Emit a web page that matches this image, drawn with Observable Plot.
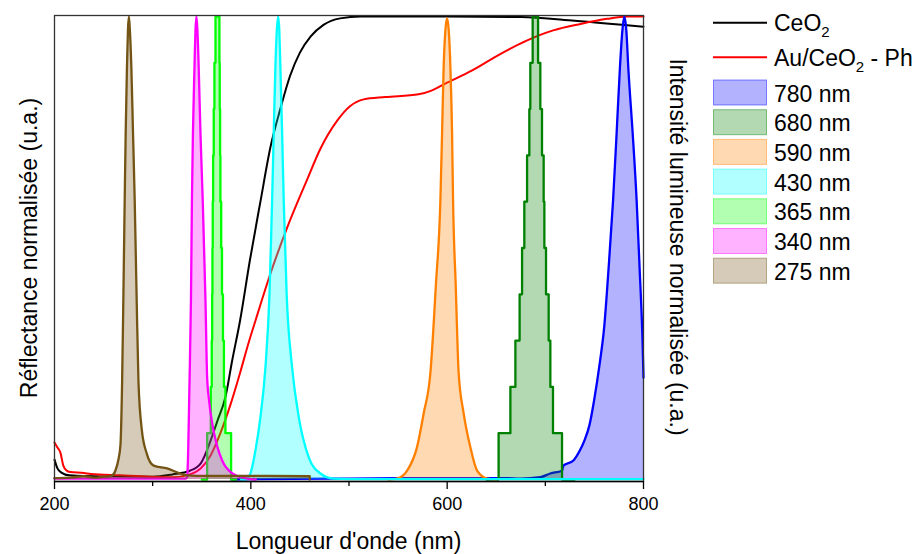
<!DOCTYPE html>
<html><head><meta charset="utf-8">
<script src="https://cdn.jsdelivr.net/npm/d3@7"></script>
<script src="https://cdn.jsdelivr.net/npm/@observablehq/plot@0.6"></script>
<style>
body{margin:0;background:#fff;}
#chart{width:922px;height:554px;}
svg{font-family:"Liberation Sans",Arial,sans-serif;}
</style></head><body><div id="chart"></div>
<script>
// ---- Reflectance (normalised) ----
const ceo2Nm = [200,203,207,215,250,300,320,338,349,359,366,374,381,389,399,410,420,430,440,450,461,474,491,512,600,675,730,800];
const ceo2R  = [0.043,0.024,0.015,0.009,0.0065,0.006,0.011,0.019,0.035,0.084,0.127,0.177,0.257,0.343,0.473,0.603,0.718,0.800,0.872,0.922,0.957,0.982,0.996,1.0,1.0,0.999,0.991,0.978];
const auNm = [200,203,206,209,212,216,230,237,267,298,321,338,349,359,369,379,389,397,404.7,420,437,457,471,488,501,515,537,571,584,598,625,654,681,708,736,763,783,800];
const auR  = [0.080,0.069,0.058,0.030,0.020,0.016,0.014,0.012,0.009,0.006,0.005,0.011,0.024,0.052,0.100,0.160,0.230,0.290,0.343,0.445,0.544,0.646,0.715,0.775,0.806,0.821,0.826,0.832,0.840,0.855,0.883,0.919,0.948,0.970,0.984,0.995,1.0,1.0];

// ---- LED emission spectra (normalised) ----
const s780Nm = [380,400,500,600,660,675,695,705,717,718.4,728.6,735,740,745,750,755,760,764.5,769,772.6,776,778.5,780.5,782.5,784.5,789,793,796,799,800];
const s780I  = [0,0.001,0.002,0.003,0.003,0.002,0.005,0.013,0.019,0.030,0.041,0.062,0.085,0.118,0.175,0.245,0.330,0.458,0.603,0.747,0.890,0.97,1.0,0.97,0.89,0.747,0.603,0.458,0.30,0.22];
const s680Nm = [640,652.4,664.4,669.5,673.8,676.3,678.6,681.4,683.7,684.7,687.1,692.6,694.9,696.6,698.3,699,700.7,703.4,705.1,707.8,717,730];
const s680I  = [0,0.1,0.2,0.3,0.4,0.5,0.6,0.7,0.8,0.9,1.0,0.9,0.8,0.7,0.6,0.5,0.4,0.3,0.2,0.1,0,0];
const s590Nm = [540,549,559.2,569.3,576.1,582.9,588.5,593.1,594.8,596.4,598.2,599.9,601.6,603.3,605,606,608.7,611.7,616.8,623.6,630.5,640.6,650];
const s590I  = [0,0.002,0.019,0.070,0.143,0.230,0.42,0.603,0.747,0.890,0.97,0.996,0.97,0.890,0.747,0.603,0.42,0.230,0.143,0.070,0.019,0.002,0];
const s430Nm = [390,394.5,399.6,404.7,409.8,414.9,419,421.7,423.3,425,426.5,427.8,429,430.1,431.9,433.5,436.5,442,448.8,459,470.9,484.1,500,800];
const s430I  = [0,0,0.013,0.063,0.135,0.243,0.40,0.603,0.747,0.890,0.97,1.0,0.97,0.890,0.747,0.603,0.40,0.243,0.135,0.048,0.013,0.002,0.001,0.001];
const s365Nm = [350,355.5,359.2,360.2,360.6,360.9,361.2,361.6,362.2,362.9,364.0,368.0,368.3,368.7,369.0,369.8,370.6,371.6,372.6,374.1,379.9,385];
const s365I  = [0,0.1,0.2,0.3,0.4,0.5,0.6,0.7,0.8,0.9,1.0,0.9,0.8,0.7,0.6,0.5,0.4,0.3,0.2,0.1,0,0];
const s340Nm = [200,334,335,335.7,337.5,339,340,341,342.6,343.6,344.6,345.6,346.9,348.7,351,353.8,355.5,357.5,360,362.2,366,370.8,381.3,396.5,405];
const s340I  = [0.002,0.002,0.005,0.027,0.207,0.387,0.603,0.747,0.890,0.97,1.0,0.97,0.890,0.747,0.603,0.387,0.22,0.17,0.13,0.104,0.07,0.041,0.013,0.002,0];
const s275Nm = [200,215,230,240,250,258,262,265,267.2,268.9,270.2,271.5,272.5,273.8,274.8,275.8,276.8,278.3,280,281.7,283.6,285.5,289,294,301,314.7,328,335,345,400,460,460];
const s275I  = [0.003,0.004,0.007,0.004,0.006,0.008,0.019,0.042,0.075,0.214,0.40,0.603,0.747,0.890,0.97,1.0,0.97,0.890,0.747,0.603,0.40,0.214,0.106,0.056,0.030,0.024,0.013,0.009,0.008,0.008,0.007,0];

const ledLabels = ["780 nm","680 nm","590 nm","430 nm","365 nm","340 nm","275 nm"];
const ledColors = ["#0000ff","#008000","#ff8000","#00ffff","#00ff00","#ff00ff","#735414"];
const ledStep   = [false,true,false,false,true,false,false];
const ledNm = [s780Nm,s680Nm,s590Nm,s430Nm,s365Nm,s340Nm,s275Nm];
const ledI  = [s780I,s680I,s590I,s430I,s365I,s340I,s275I];

const reflLabels = ["CeO2","Au/CeO2 - Ph"];
const reflColors = ["#000000","#ff0000"];
const reflNm = [ceo2Nm, auNm];
const reflR  = [ceo2R, auR];

const xTicks = [200,400,600,800];
const xMinorTicks = [300,500,700];
const xTitle = "Longueur d'onde (nm)";
const yTitleLeft = "Réflectance normalisée (u.a.)";
const yTitleRight = "Intensité lumineuse normalisée (u.a.)";

// ---- build tables ----
const toRows = (xs, ys) => xs.map((x, i) => ({x, y: ys[i]}));
const yMin = -0.0043, yMax = 1.0022;

const marks = [];
reflNm.forEach((xs, k) => {
  marks.push(Plot.line(toRows(xs, reflR[k]), {x:"x", y:"y", stroke: reflColors[k], strokeWidth: 2, curve:"monotone-x"}));
});
ledNm.forEach((xs, k) => {
  const rows = toRows(xs, ledI[k]);
  const curve = ledStep[k] ? "step-after" : "monotone-x";
  marks.push(Plot.areaY(rows, {x:"x", y:"y", fill: ledColors[k], fillOpacity: 0.3, curve}));
  marks.push(Plot.line(rows, {x:"x", y:"y", stroke: ledColors[k], strokeWidth: 2.3, curve}));
});
marks.push(Plot.frame({stroke:"#333", strokeWidth:1.3}));
marks.push(Plot.ruleY([yMin], {stroke:"#000", strokeWidth:1.5}));
marks.push(Plot.axisX(xTicks, {tickSize: 8, tickPadding: 8, label: null, strokeWidth: 1.3, fontSize: 18}));
marks.push(Plot.axisX(xMinorTicks, {tickSize: 5, text: null, label: null, strokeWidth: 1.3}));

const svg = Plot.plot({
  width: 922, height: 554,
  marginLeft: 54, marginRight: 279, marginTop: 15, marginBottom: 73,
  style: {fontFamily: "'Liberation Sans', Arial, sans-serif", fontSize: "18px", color: "#000", background: "#fff", overflow: "visible"},
  x: {domain: [200, 800]},
  y: {domain: [yMin, yMax], axis: null},
  marks
});
document.getElementById("chart").appendChild(svg);
// enforce tick-label size
const tickStrings = xTicks.map(String);
d3.select(svg).selectAll("text").filter(function() { return tickStrings.includes(this.textContent); })
  .attr("font-size", 18).style("font-size", "18px");

// ---- titles and legend ----
const g = d3.select(svg).append("g").attr("fill", "#000")
  .style("font-family", "'Liberation Sans', Arial, sans-serif").style("font-size", "23px");
g.append("text").attr("x", 348.5).attr("y", 549).attr("text-anchor", "middle").text(xTitle);
g.append("text").attr("transform", "translate(37,248) rotate(-90)").attr("text-anchor", "middle").text(yTitleLeft);
g.append("text").attr("transform", "translate(670,247) rotate(90)").attr("text-anchor", "middle").text(yTitleRight);

const lg = g.append("g").attr("text-anchor", "start");
const lineYs = [22.7, 57.3];
reflLabels.forEach((lab, k) => {
  lg.append("line").attr("x1", 713).attr("x2", 767).attr("y1", lineYs[k]).attr("y2", lineYs[k])
    .attr("stroke", reflColors[k]).attr("stroke-width", 2);
  const t = lg.append("text").attr("x", 774).attr("y", lineYs[k] + 8.5).attr("text-anchor", "start");
  const parts = lab.split("2");
  t.append("tspan").text(parts[0]);
  t.append("tspan").attr("dy", 6).style("font-size", "15px").text("2");
  if (parts[1]) t.append("tspan").attr("dy", -6).text(parts[1]);
});
ledLabels.forEach((lab, k) => {
  const y0 = 80 + k * 29.7;
  lg.append("rect").attr("x", 713.5).attr("y", y0).attr("width", 53).attr("height", 25)
    .attr("fill", ledColors[k]).attr("fill-opacity", 0.3)
    .attr("stroke", ledColors[k]).attr("stroke-opacity", 0.45).attr("stroke-width", 1);
  lg.append("text").attr("x", 774).attr("y", y0 + 21.5).attr("text-anchor", "start").text(lab);
});
</script></body></html>
